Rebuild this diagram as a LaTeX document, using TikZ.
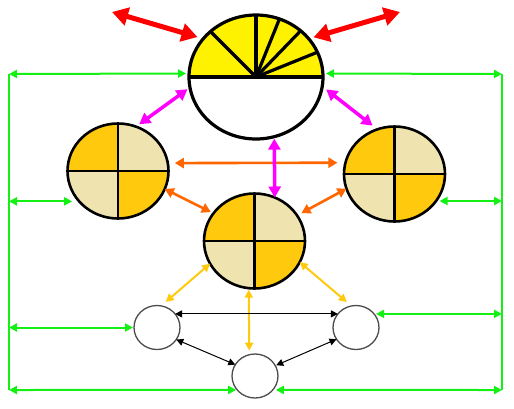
\documentclass[tikz,border=0pt]{standalone}
\usetikzlibrary{arrows.meta,shapes.geometric}
\definecolor{cgreen}{RGB}{20,240,20}
\definecolor{cred}{RGB}{255,0,0}
\definecolor{cmag}{RGB}{255,0,255}
\definecolor{corange}{RGB}{255,102,0}
\definecolor{cgold}{RGB}{255,201,14}
\definecolor{clight}{RGB}{239,228,176}
\definecolor{cyel}{RGB}{255,242,0}
\tikzset{
  topnode/.style={ellipse, draw=black, line width=3.2pt, fill=white, inner sep=0pt, outer sep=0pt,
    minimum width=134pt, minimum height=124pt,
    path picture={\fill[cyel] (path picture bounding box.west) rectangle (path picture bounding box.north east);}},
  quad/.style={ellipse, draw=black, line width=2.6pt, fill=clight, inner sep=0pt, outer sep=0pt,
    minimum width=101pt, minimum height=95pt,
    path picture={
      \fill[cgold] (path picture bounding box.center) rectangle (path picture bounding box.north west);
      \fill[cgold] (path picture bounding box.center) rectangle (path picture bounding box.south east);
      \draw[black, line width=2.8pt] (path picture bounding box.north) -- (path picture bounding box.south);
      \draw[black, line width=2.8pt] (path picture bounding box.west) -- (path picture bounding box.east);}},
  small/.style={ellipse, draw=black!70, line width=1.3pt, fill=white, inner sep=0pt, outer sep=0pt,
    minimum width=46pt, minimum height=44pt},
  gar/.style={draw=cgreen, line width=2pt, <->, >={Triangle[length=8pt,width=8pt]}},
  gline/.style={draw=cgreen, line width=2pt},
  rar/.style={draw=cred, line width=5pt, <->, >={Triangle[length=16pt,width=18pt]}},
  mar/.style={draw=cmag, line width=3.5pt, <->, >={Triangle[length=11pt,width=12pt]}},
  oar/.style={draw=corange, line width=2.6pt, <->, >={Triangle[length=9pt,width=10pt]}},
  yar/.style={draw=cgold, line width=2pt, <->, >={Triangle[length=8pt,width=8pt]}},
  bar/.style={draw=black, line width=1pt, <->, >={Triangle[length=7pt,width=7pt]}},
  spoke/.style={draw=black, line width=3.2pt}
}
\begin{document}
\begin{tikzpicture}[x=1pt,y=-1pt]
\useasboundingbox (0,0) rectangle (514,408);
% nodes
\node[topnode] (T) at (256,77) {};
\draw[spoke] (T.west) -- (T.east);
\foreach \a in {135,90,68.5,46,22.6} \draw[spoke] (T.center) -- (T.\a);
\node[quad] (A) at (118,171) {};
\node[quad] (B) at (394.5,174) {};
\node[quad] (M) at (254.5,241) {};
\node[small] (SL) at (157,327.5) {};
\node[small] (SR) at (356,327.5) {};
\node[small] (SB) at (255,376) {};
% green frame
\coordinate (LT) at (9,74);
\coordinate (RT) at (502,74);
\coordinate (LB) at (9,390);
\coordinate (RB) at (502,390);
\draw[gline] (LT) -- (LB);
\draw[gline] (RT) -- (RB);
\draw[gar, shorten >=3pt] (LT) -- (T.177);
\draw[gar, shorten >=3pt] (RT) -- (T.3);
\draw[gar, shorten >=7pt] (LT |- A.218) -- (A.218);
\draw[gar, shorten >=3.5pt] (RT |- B.-33) -- (B.-33);
\draw[gar, shorten >=1pt] (LT |- SL.west) -- (SL.west);
\draw[gar, shorten >=2pt] (RT |- SR.37) -- (SR.37);
\draw[gar, shorten >=1pt] (LB) -- (SB.218.3);
\draw[gar, shorten >=3pt] (RB) -- (SB.-38.3);
% red
\coordinate (RL) at (112,12);
\coordinate (RR) at (400,12);
\draw[rar, shorten >=6pt] (RL) -- (T.144.6);
\draw[rar, shorten >=5pt] (RR) -- (T.36.4);
% orange
\draw[oar, shorten <=7pt, shorten >=8pt] (A.9.2) -- (B.167.4);
\draw[oar, shorten >=3pt] (A.-21.1) -- (M.146.9);
\draw[oar, shorten >=5pt] (B.197.5) -- (M.31.4);
% magenta
\draw[mar, shorten <=3pt, shorten >=4pt] (T.189) -- (A.68.4);
\draw[mar, shorten <=5pt, shorten >=6pt] (T.-8.8) -- (B.111.9);
\draw[mar, shorten <=2pt] (T.-73.8) -- (M.65.6);
% gold
\draw[yar, shorten >=6pt] (M.207.4) -- (SL.79.7);
\draw[yar, shorten >=6pt] (M.-25.8) -- (SR.102.3);
\draw[yar, shorten <=1.5pt, shorten >=4pt] (M.-97.6) -- (SB.105.6);
% black
\draw[bar] (SL.37) -- (SR.143);
\draw[bar] (SL.-32.6) -- (SB.150);
\draw[bar, shorten >=1pt] (SR.211.2) -- (SB.27.6);
\end{tikzpicture}
\end{document}
